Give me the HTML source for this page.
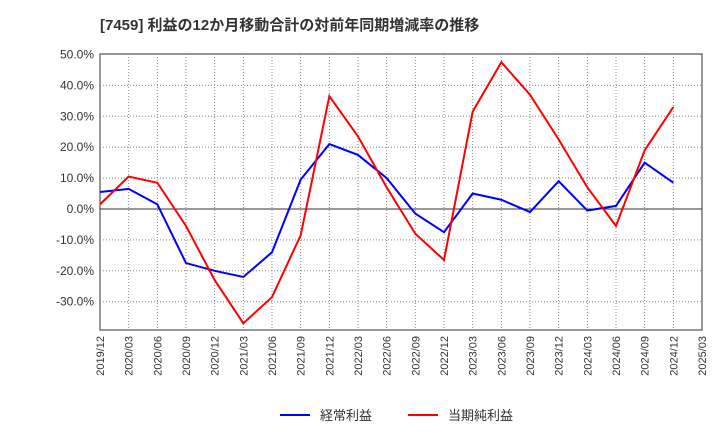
<!DOCTYPE html>
<html><head><meta charset="utf-8"><style>
body{margin:0;background:#fff;font-family:"Liberation Sans","Noto Sans CJK JP",sans-serif;}
</style></head><body>
<svg id="c" width="720" height="440" xmlns="http://www.w3.org/2000/svg">
<text x="100" y="30" font-size="15" font-weight="bold" fill="#333" font-family="Liberation Sans, Noto Sans CJK JP, sans-serif">[7459]  利益の12か月移動合計の対前年同期増減率の推移</text>
<g id="grid"></g><g id="axes"></g><g id="series"></g>
<g>
<line x1="280" y1="415" x2="310" y2="415" stroke="#0000ff" stroke-width="2"/>
<text x="320" y="420" font-size="13" fill="#333" font-family="Liberation Sans, Noto Sans CJK JP, sans-serif">経常利益</text>
<line x1="408" y1="415" x2="438" y2="415" stroke="#ff0000" stroke-width="2"/>
<text x="448" y="420" font-size="13" fill="#333" font-family="Liberation Sans, Noto Sans CJK JP, sans-serif">当期純利益</text>
</g>
</svg>
<script>
const categories=["2019/12","2020/03","2020/06","2020/09","2020/12","2021/03","2021/06","2021/09","2021/12","2022/03","2022/06","2022/09","2022/12","2023/03","2023/06","2023/09","2023/12","2024/03","2024/06","2024/09","2024/12","2025/03"];
const ordinaryProfit=[5.5,6.5,1.5,-17.5,-20,-22,-14,9.5,21,17.5,10,-1.5,-7.5,5,3,-1,9,-0.5,1,15,8.5];
const netProfit=[1.5,10.5,8.5,-5.5,-23,-37,-28.5,-8.5,36.5,23.5,7,-8,-16.5,31.5,47.5,37,22.5,7,-5.5,19,33];
const yTicks=[50,40,30,20,10,0,-10,-20,-30];
const NS="http://www.w3.org/2000/svg";
const L=100,R=702,T=54,B=330;
const yScale=v=>209-v*3.09;
const xScale=i=>L+i*(R-L)/(categories.length-1);
function mk(tag,attrs,parent){const e=document.createElementNS(NS,tag);for(const k in attrs)e.setAttribute(k,attrs[k]);parent.appendChild(e);return e;}
const grid=document.getElementById('grid'),axes=document.getElementById('axes'),ser=document.getElementById('series');
const bg=mk('rect',{x:L,y:T,width:R-L,height:B-T,fill:'#fff',stroke:'#333','stroke-width':1},grid);


yTicks.forEach(v=>{const y=yScale(v);
 const g=mk('line',{x1:L,x2:R,y1:y,y2:y,stroke:v===0?'#333':'#888','stroke-dasharray':v===0?'':'1,2','stroke-width':1},grid);
 
 
 const t=mk('text',{x:L-6,y:y+4,'text-anchor':'end','font-size':12,fill:'#333'},axes);t.textContent=v.toFixed(1)+'%';
 
 
});
categories.forEach((c,i)=>{const x=xScale(i);
 if(i>0&&i<categories.length-1){const g=mk('line',{x1:x,x2:x,y1:T,y2:B,stroke:'#888','stroke-dasharray':'1,2'},grid);
 
 }
 const t=mk('text',{transform:`translate(${x+4},${B+6}) rotate(-90)`,'text-anchor':'end','font-size':11,fill:'#333'},axes);t.textContent=c;
 
 
});
function line(data,color,name){const p=mk('polyline',{points:data.map((v,i)=>xScale(i)+','+yScale(v)).join(' '),fill:'none',stroke:color,'stroke-width':2},ser);
 
 }
line(ordinaryProfit,'#0000ff','ordinary-profit-line');
line(netProfit,'#ff0000','net-profit-line');
</script>
</body></html>
